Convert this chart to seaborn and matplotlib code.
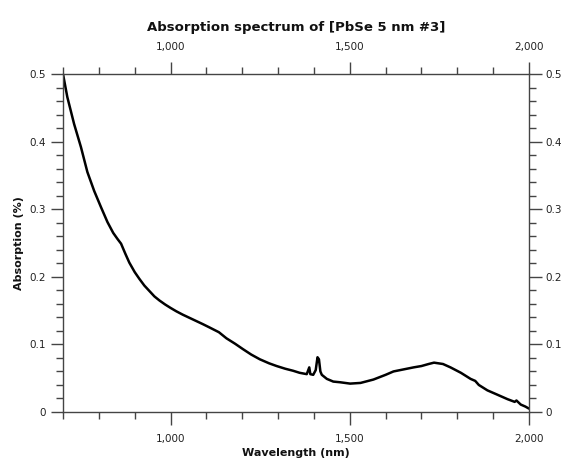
import numpy as np
import pandas as pd
import matplotlib
matplotlib.use("Agg")
import matplotlib.pyplot as plt
from matplotlib.ticker import MultipleLocator, FuncFormatter
import seaborn as sns

wavelength = [700, 712, 731, 750, 768, 787, 806, 824, 840, 852, 862, 874, 885, 900,
              913, 927, 941, 955, 969, 985,
              1000, 1016, 1034, 1062, 1090, 1109, 1135, 1156, 1180, 1202, 1225, 1249,
              1275, 1296, 1320, 1342, 1360, 1380, 1387, 1390, 1398, 1405, 1410, 1414,
              1418, 1422, 1436, 1454, 1473, 1501, 1530, 1566, 1600, 1622, 1650, 1678,
              1700, 1720, 1735, 1760, 1781, 1810, 1837, 1850, 1860, 1884, 1910, 1940,
              1960, 1965, 1977, 1990, 2000]
absorption = [0.500, 0.466, 0.426, 0.392, 0.355, 0.327, 0.303, 0.281, 0.265, 0.256,
              0.249, 0.234, 0.221, 0.207, 0.197, 0.187, 0.179, 0.171, 0.165, 0.159,
              0.154, 0.149, 0.144, 0.137, 0.130, 0.125,
              0.118, 0.109, 0.101, 0.093, 0.085, 0.078, 0.072, 0.068, 0.064, 0.061,
              0.058, 0.056, 0.066, 0.056, 0.055, 0.062, 0.081, 0.078, 0.060, 0.055,
              0.049, 0.045, 0.044, 0.042, 0.043, 0.048, 0.055, 0.060, 0.063, 0.066,
              0.068, 0.071, 0.073, 0.071, 0.066, 0.058, 0.049, 0.046, 0.040, 0.032,
              0.026, 0.019, 0.015, 0.017, 0.011, 0.008, 0.005]

title = "Absorption spectrum of [PbSe 5 nm #3]"
x_label = "Wavelength (nm)"
y_label = "Absorption (%)"

df = pd.DataFrame({"wavelength": wavelength, "absorption": absorption})

sns.set_theme(style="white")
plt.rcParams['font.family'] = ['DejaVu Sans']

fig = plt.figure(figsize=(5.68, 4.63), dpi=100)
ax = fig.add_axes([63/568, 1-412/463, (529-63)/568, (412-74)/463])

sns.lineplot(data=df, x="wavelength", y="absorption", ax=ax, color="black",
             linewidth=1.8, estimator=None)

ax.set_xlim(700, 2000)
ax.set_ylim(0, 0.5)

ax.xaxis.set_major_locator(MultipleLocator(500))
ax.xaxis.set_minor_locator(MultipleLocator(100))
ax.yaxis.set_major_locator(MultipleLocator(0.1))
ax.yaxis.set_minor_locator(MultipleLocator(0.02))
ax.xaxis.set_major_formatter(FuncFormatter(lambda v, p: f"{int(v):,}"))
ax.yaxis.set_major_formatter(FuncFormatter(lambda v, p: "0" if abs(v) < 1e-9 else f"{v:.1f}"))

lab_col = "#222222"
ax.tick_params(axis="both", which="major", direction="out", length=9, width=1,
               color="#444444", labelsize=7.5, labelcolor=lab_col,
               top=True, right=True, labeltop=True, labelright=True,
               bottom=True, left=True)
ax.tick_params(axis="both", which="minor", direction="out", length=5, width=1,
               color="#444444", top=True, right=True, bottom=True, left=True)
ax.tick_params(axis="x", which="major", pad=6.5)
ax.tick_params(axis="y", which="major", pad=3)

for s in ax.spines.values():
    s.set_visible(True)
    s.set_color("#444444")
    s.set_linewidth(1)

ax.set_xlabel(x_label, fontsize=8, fontweight="bold", color="#111111", labelpad=3)
ax.set_ylabel(y_label, fontsize=8, fontweight="bold", color="#111111", labelpad=4)
fig.text((63+529)/2/568, 1-27/463, title, ha="center", va="center",
         fontsize=9.5, fontweight="bold", color="#111111")

fig.savefig("out.png", dpi=100, facecolor="white")
